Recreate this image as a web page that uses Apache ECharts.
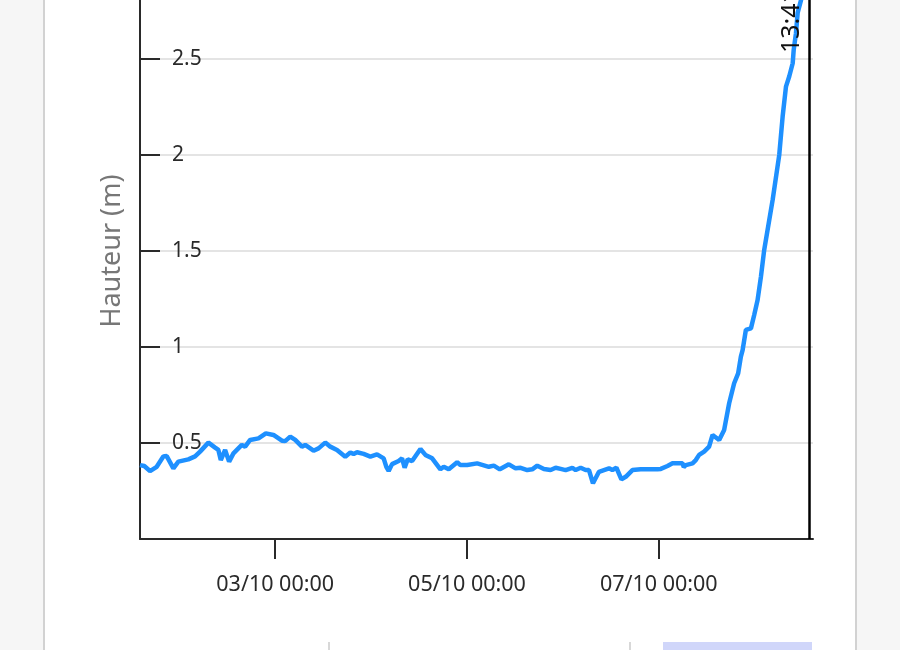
<!DOCTYPE html>
<html><head><meta charset="utf-8">
<script src="https://cdn.jsdelivr.net/npm/echarts@6/dist/echarts.min.js"></script>
<style>html,body{margin:0;padding:0;background:#f6f6f6;overflow:hidden}#c{position:absolute;left:0;top:-37px;width:900px;height:687px}</style>
</head><body><div id="c"></div>
<script>
const YEAR = 2024;
const times = [
'01/10 14:10','01/10 15:14','01/10 16:40','01/10 18:21','01/10 20:00','01/10 20:51','01/10 22:31','01/10 23:46',
'02/10 02:16','02/10 03:57','02/10 05:12','02/10 07:17','02/10 08:58','02/10 09:47','02/10 10:23','02/10 11:28','02/10 12:28','02/10 13:33','02/10 15:39','02/10 16:29','02/10 17:44','02/10 19:49','02/10 21:40','02/10 23:34',
'03/10 01:41','03/10 02:30','03/10 03:46','03/10 05:01','03/10 06:41','03/10 07:31','03/10 09:36','03/10 10:51','03/10 12:32','03/10 13:47','03/10 15:28','03/10 17:33','03/10 18:48','03/10 19:38','03/10 20:29','03/10 22:08','03/10 23:49',
'04/10 01:29','04/10 03:09','04/10 03:49','04/10 04:24','04/10 05:15','04/10 06:54','04/10 07:45','04/10 08:24','04/10 09:10','04/10 10:16','04/10 12:21','04/10 13:36','04/10 15:17','04/10 17:21','04/10 18:11','04/10 19:26','04/10 21:33','04/10 22:22',
'05/10 00:03','05/10 02:33','05/10 05:28','05/10 06:43','05/10 08:13','05/10 10:29','05/10 12:10','05/10 13:25','05/10 15:05','05/10 16:20','05/10 17:36','05/10 19:15','05/10 20:56','05/10 22:11','05/10 23:26',
'06/10 00:41','06/10 02:22','06/10 03:12','06/10 04:27','06/10 05:42','06/10 06:32','06/10 07:32','06/10 09:02','06/10 10:17','06/10 11:33','06/10 12:23','06/10 13:24','06/10 14:39','06/10 15:44','06/10 17:24','06/10 19:29','06/10 23:40',
'07/10 00:30','07/10 02:11','07/10 03:26','07/10 04:41','07/10 05:56','07/10 06:15','07/10 06:46','07/10 08:27','07/10 09:16','07/10 10:06','07/10 11:21','07/10 12:36','07/10 13:28','07/10 15:07','07/10 16:22','07/10 17:37','07/10 18:52','07/10 19:52','07/10 20:33','07/10 20:59','07/10 21:48','07/10 23:04','07/10 23:53',
'08/10 00:44','08/10 01:34','08/10 02:23','08/10 04:30','08/10 06:09','08/10 07:00','08/10 07:50','08/10 08:40','08/10 09:31','08/10 09:46','08/10 10:20','08/10 10:46','08/10 11:36','08/10 12:21'
];
const heights = [
0.385,0.38,0.354,0.376,0.43,0.432,0.368,0.403,
0.415,0.43,0.455,0.502,0.476,0.464,0.411,0.464,0.403,0.446,0.49,0.481,0.516,0.524,0.55,0.542,
0.512,0.51,0.533,0.516,0.481,0.49,0.46,0.472,0.502,0.481,0.464,0.429,0.45,0.443,0.452,0.443,0.429,
0.441,0.42,0.376,0.354,0.39,0.406,0.42,0.371,0.415,0.406,0.469,0.438,0.42,0.363,0.376,0.363,0.40,0.385,
0.385,0.394,0.376,0.382,0.363,0.389,0.368,0.371,0.359,0.363,0.382,0.365,0.359,0.371,0.365,
0.359,0.371,0.359,0.371,0.359,0.359,0.29,0.35,0.359,0.368,0.359,0.371,0.311,0.324,0.359,0.363,0.363,
0.365,0.38,0.394,0.394,0.394,0.375,0.385,0.394,0.411,0.438,0.455,0.481,0.542,0.516,0.568,0.707,0.811,0.863,0.95,0.984,1.089,1.097,1.167,
1.245,1.366,1.505,1.766,2.0,2.2,2.356,2.41,2.478,2.547,2.634,2.741,2.807,2.88
];
const xTickLabels = ['03/10 00:00','05/10 00:00','07/10 00:00'];
const xMin = '01/10 14:10';
const xMax = '08/10 14:36';
const nowTime = '08/10 13:41';
const nowLabel = '13:41';
const yMin = 0, yMax = 3, yStep = 0.5;
const nowLineTop = 2.89;
const yName = 'Hauteur (m)';

function parse(s){
  const [d, t] = s.split(' ');
  const [dd, mm] = d.split('/').map(Number);
  const [hh, mi] = t.split(':').map(Number);
  return Date.UTC(YEAR, mm-1, dd, hh, mi);
}
function pad(n){return String(n).padStart(2,'0');}
function fmt(v){
  const d = new Date(v);
  return pad(d.getUTCDate())+'/'+pad(d.getUTCMonth()+1)+' '+pad(d.getUTCHours())+':'+pad(d.getUTCMinutes());
}
const data = times.map((t,i)=>[parse(t), heights[i]]);
const tickVals = xTickLabels.map(parse);
const nowT = parse(nowTime);

const chart = echarts.init(document.getElementById('c'), null, {renderer:'canvas'});
const FONT = 'Noto Sans';
const OY = 37; // chart canvas starts 37px above the viewport
chart.setOption({
  backgroundColor:'#f6f6f6',
  animation:false,
  graphic:[
    {type:'rect', z:-10, shape:{x:44, y:0, width:812, height:700}, style:{fill:'#ffffff', stroke:'#d2d2d2', lineWidth:2}},
    {type:'line', z:-5, shape:{x1:329, y1:642+OY, x2:329, y2:660+OY}, style:{stroke:'#d8d8d8', lineWidth:2}},
    {type:'line', z:-5, shape:{x1:630, y1:642+OY, x2:630, y2:660+OY}, style:{stroke:'#d8d8d8', lineWidth:2}},
    {type:'rect', z:-5, shape:{x:663, y:642+OY, width:149, height:20}, style:{fill:'#d0d6fa'}}
  ],
  grid:{left:140, right:87, top:0, bottom:111, containLabel:false, outerBoundsMode:'none'},
  xAxis:{
    type:'value', min:parse(xMin), max:parse(xMax),
    axisLine:{show:true, onZero:false, lineStyle:{color:'#2a2a2a', width:2}},
    axisTick:{show:true, customValues:tickVals, length:20, lineStyle:{color:'#2a2a2a', width:2}},
    axisLabel:{customValues:tickVals, formatter:v=>fmt(v), fontFamily:FONT, fontSize:21.5, color:'#2a2a2a', margin:35},
    splitLine:{show:false}
  },
  yAxis:{
    type:'value', min:yMin, max:yMax, interval:yStep,
    name:yName, nameLocation:'middle', nameGap:14, nameRotate:90,
    nameTextStyle:{fontFamily:FONT, fontSize:27, color:'#777'},
    axisLine:{show:true, lineStyle:{color:'#2a2a2a', width:2}},
    axisTick:{show:true, inside:true, length:20, lineStyle:{color:'#2a2a2a', width:2}},
    axisLabel:{inside:true, margin:32, showMinLabel:false, fontFamily:FONT, fontSize:21, color:'#2a2a2a',
      formatter:v=>String(v)},
    splitLine:{show:true, lineStyle:{color:'#e4e4e4', width:2}}
  },
  series:[{
    type:'line', data:data, showSymbol:false, symbol:'none',
    lineStyle:{color:'#1e90ff', width:4.5}, itemStyle:{color:'#1e90ff'},
    z:3,
    markLine:{
      silent:true, symbol:['none','none'], animation:false,
      lineStyle:{color:'#000', width:2.5, type:'solid'},
      label:{show:true, position:'insideEndTop', formatter:nowLabel, fontFamily:FONT, fontSize:25, color:'#111'},
      data:[[{coord:[nowT, yMin]},{coord:[nowT, nowLineTop]}]]
    }
  }]
});
</script></body></html>
